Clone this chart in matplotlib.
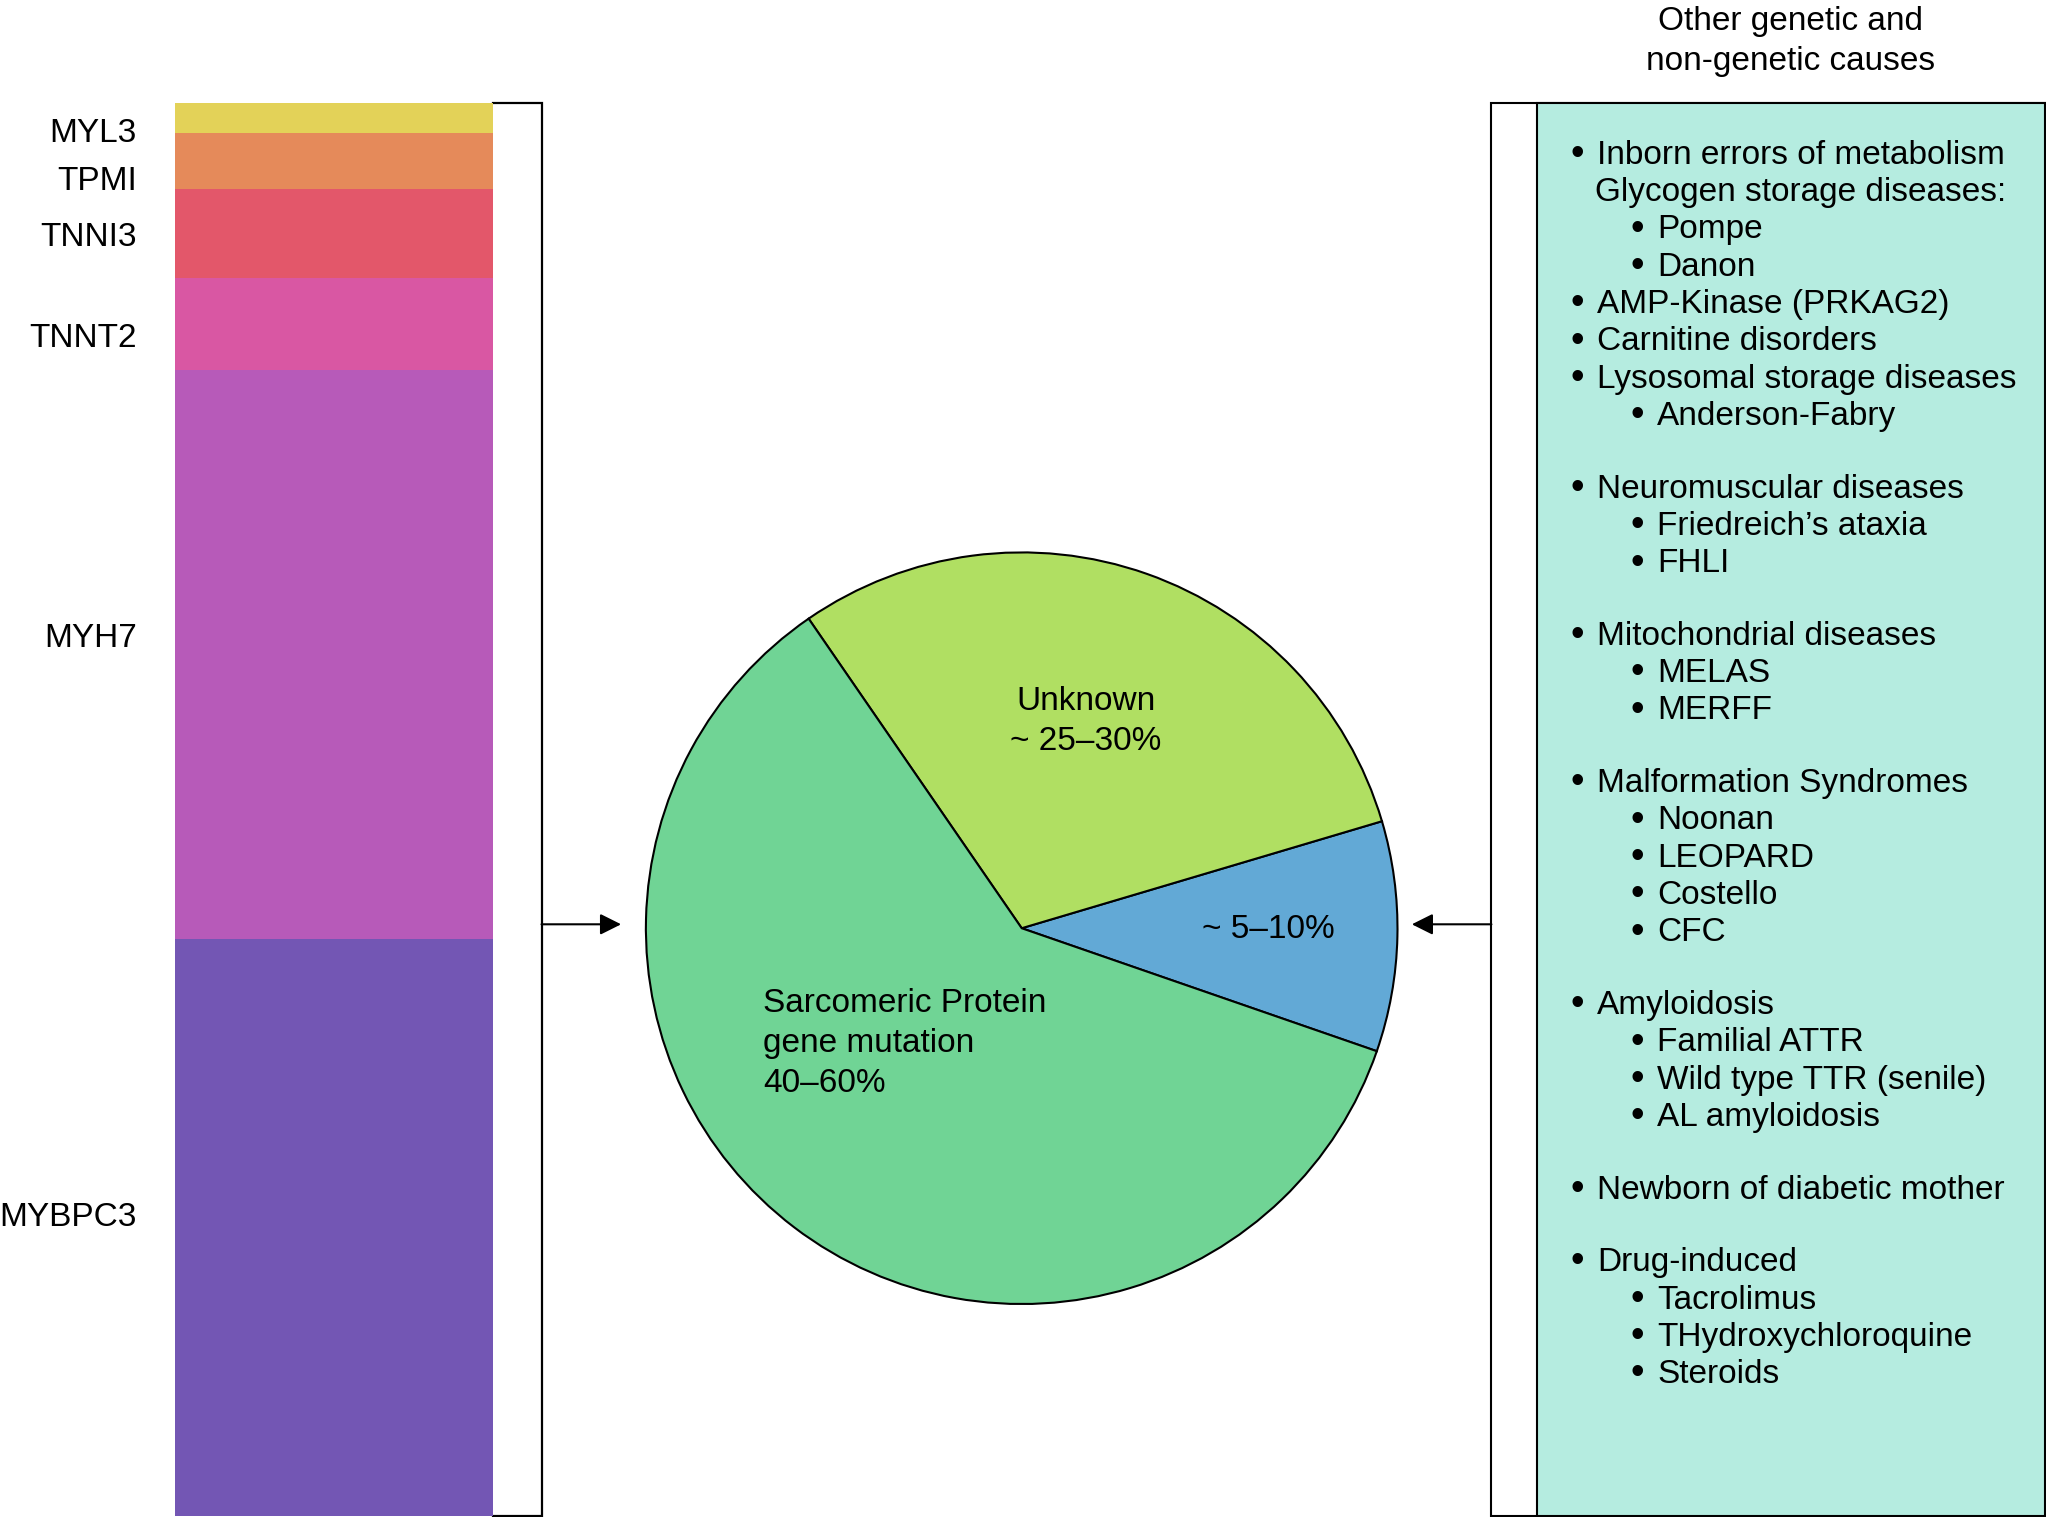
import matplotlib
matplotlib.use("Agg")
from matplotlib import pyplot as plt
from matplotlib.patches import Rectangle
import numpy as np

plt.rcParams['font.family'] = ['Liberation Sans', 'DejaVu Sans']

# layout grid in reference pixels (display scale)
W, H = 1568, 1162

# stacked bar: sarcomeric genes, bottom to top
genes = ['MYBPC3', 'MYH7', 'TNNT2', 'TNNI3', 'TPMI', 'MYL3']
gene_share = [40.9, 40.3, 6.5, 6.3, 4.0, 2.1]
gene_colors = ['#7356b4', '#b75ab9', '#d957a3', '#e3576a', '#e58a5a', '#e3d258']

# pie: causes of HCM
pie_labels = ['~ 5–10%', 'Unknown\n~ 25–30%', 'Sarcomeric Protein\ngene mutation\n40–60%']
pie_share = [9.9, 30.0, 60.1]
pie_colors = ['#62a9d6', '#b0df62', '#70d495']

# right box list; level 0 = bullet, 1 = sub bullet, -1 = plain
causes = [
    [(0, 'Inborn errors of metabolism'), (-1, 'Glycogen storage diseases:'),
     (1, 'Pompe'), (1, 'Danon'), (0, 'AMP-Kinase (PRKAG2)'),
     (0, 'Carnitine disorders'), (0, 'Lysosomal storage diseases'),
     (1, 'Anderson-Fabry')],
    [(0, 'Neuromuscular diseases'), (1, 'Friedreich’s ataxia'), (1, 'FHLI')],
    [(0, 'Mitochondrial diseases'), (1, 'MELAS'), (1, 'MERFF')],
    [(0, 'Malformation Syndromes'), (1, 'Noonan'), (1, 'LEOPARD'),
     (1, 'Costello'), (1, 'CFC')],
    [(0, 'Amyloidosis'), (1, 'Familial ATTR'), (1, 'Wild type TTR (senile)'),
     (1, 'AL amyloidosis')],
    [(0, 'Newborn of diabetic mother')],
    [(0, 'Drug-induced'), (1, 'Tacrolimus'), (1, 'THydroxychloroquine'),
     (1, 'Steroids')],
]

FS = 24
LS = 1.38


def box(x, y, w, h):
    # disp-px box (y from top) -> figure fraction
    return [x / W, 1 - (y + h) / H, w / W, h / H]


fig = plt.figure(figsize=(20.46, 15.17), dpi=100)
ax = fig.add_axes([0, 0, 1, 1])
ax.set_xlim(0, W)
ax.set_ylim(H, 0)
ax.axis('off')

# --- stacked bar
bx = fig.add_axes(box(134, 79, 244, 1082))
bottom = np.concatenate([[0], np.cumsum(gene_share)[:-1]])
bx.bar(0, gene_share, bottom=bottom, width=1, color=gene_colors, linewidth=0)
bx.set_xlim(-0.5, 0.5)
bx.set_ylim(0, sum(gene_share))
bx.axis('off')
nudge = [-7, -12, 11, 3, 16, 12]  # label offsets in px, down
px_to_val = sum(gene_share) / 1082
for name, b, v, dn in zip(genes, bottom, gene_share, nudge):
    bx.text(-0.62, b + v / 2 - dn * px_to_val, name, ha='right', va='center',
            fontsize=FS, clip_on=False)

# bracket + arrow
ax.plot([378, 415, 415, 378], [79, 79, 1161, 1161], color='black', lw=1.6,
        solid_joinstyle='miter')
ax.annotate('', xy=(476, 708), xytext=(415, 708),
            arrowprops=dict(arrowstyle='-|>', color='black', lw=1.5,
                            mutation_scale=32, shrinkA=0, shrinkB=0))

# --- pie
R = 288
pad = 1.03
px = fig.add_axes(box(783 - R * pad, 711 - R * pad, 2 * R * pad, 2 * R * pad))
px.pie(pie_share, colors=pie_colors, startangle=-19.1, counterclock=True,
       wedgeprops=dict(edgecolor='black', linewidth=1.5))
px.set_aspect('equal')
px.set_xlim(-pad, pad)
px.set_ylim(-pad, pad)
px.axis('off')
px.text(0.656, -0.003, pie_labels[0], ha='center', va='center', fontsize=FS)
px.text(0.170, 0.550, pie_labels[1], ha='center', va='center', fontsize=FS,
        multialignment='center', linespacing=LS)
px.text(-0.6875, -0.306, pie_labels[2], ha='left', va='center', fontsize=FS,
        multialignment='left', linespacing=LS)

# --- right box
ax.add_patch(Rectangle((1143, 79), 424, 1082, facecolor='white',
                       edgecolor='black', lw=1.5))
ax.add_patch(Rectangle((1178, 79), 389, 1082, facecolor='#b5ece0',
                       edgecolor='black', lw=1.5))
ax.annotate('', xy=(1082, 708), xytext=(1143, 708),
            arrowprops=dict(arrowstyle='-|>', color='black', lw=1.5,
                            mutation_scale=32, shrinkA=0, shrinkB=0))
ax.text(1372, 32, 'Other genetic and\nnon-genetic causes', ha='center',
        va='center', fontsize=FS, linespacing=1.36)

step, gap, y0 = 28.6, 27.0, 116.3
text_x = {0: 1224, 1: 1270, -1: 1222}
i = 0
for g, group in enumerate(causes):
    for level, label in group:
        y = y0 + step * i + gap * g + 9
        ax.text(text_x[level], y, label, fontsize=FS, va='baseline')
        if level >= 0:
            ax.text(text_x[level] - 15, y + 1, '•', fontsize=28, va='baseline',
                    ha='center')
        i += 1

fig.savefig('out.png', dpi=100)
